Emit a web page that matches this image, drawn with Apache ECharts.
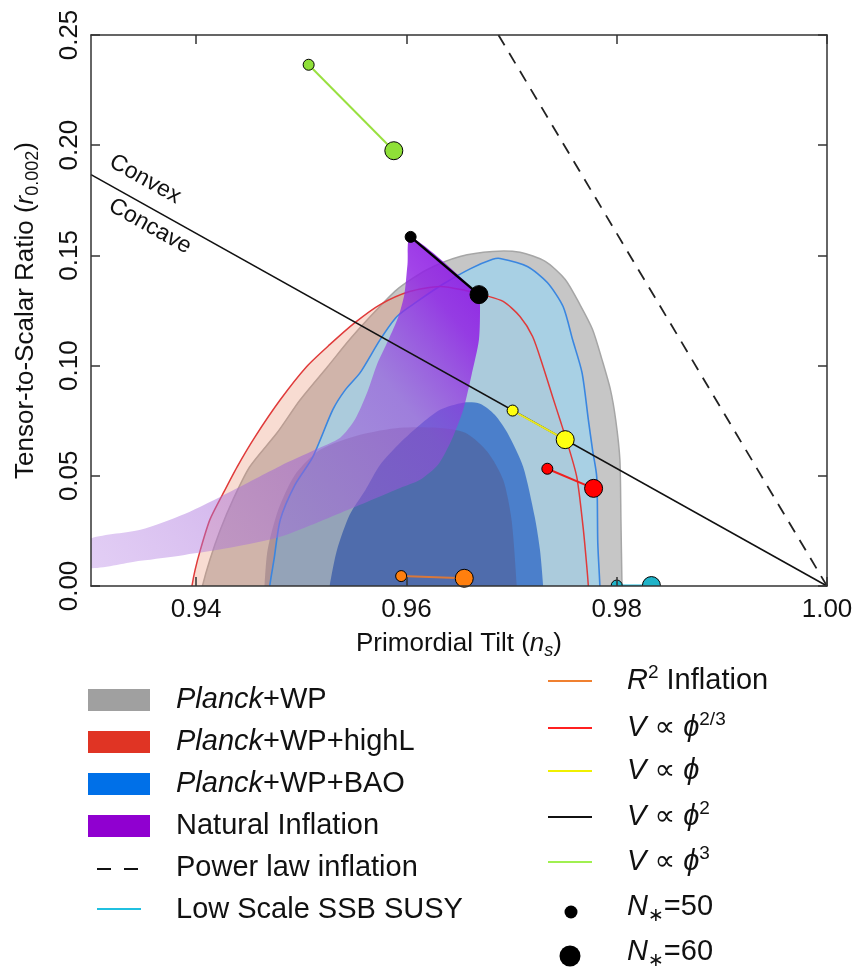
<!DOCTYPE html>
<html>
<head>
<meta charset="utf-8">
<script src="https://cdn.jsdelivr.net/npm/echarts@6/dist/echarts.min.js"></script>
<style>
  html, body { margin: 0; padding: 0; background: #fff; }
  #chart { width: 855px; height: 967px; }
</style>
</head>
<body>
<div id="chart"></div>
<script>
// Axis ticks
const xTicks = [0.94, 0.96, 0.98, 1.00];
const yTicks = [0.00, 0.05, 0.10, 0.15, 0.20, 0.25];

// Confidence region outlines, [n_s, r]
const planckWP95 = [[0.9405,-0.004],[0.9406,0],[0.9413,0.0118],[0.9423,0.0255],[0.9435,0.0391],[0.9451,0.0541],[0.9477,0.0695],[0.9499,0.0845],[0.9525,0.0995],[0.9546,0.1118],[0.9563,0.1209],[0.9591,0.1345],[0.9620,0.1436],[0.9651,0.1495],[0.9682,0.1518],[0.9708,0.1514],[0.9732,0.1473],[0.9751,0.1391],[0.9765,0.1277],[0.9777,0.1164],[0.9786,0.1027],[0.9794,0.0891],[0.9799,0.0755],[0.9803,0.0573],[0.9804,0.0300],[0.9805,0],[0.9805,-0.004]];
const planckWP68 = [[0.9465,-0.004],[0.9465,0],[0.9468,0.0164],[0.9478,0.0345],[0.9494,0.0505],[0.9518,0.0618],[0.9556,0.0686],[0.9594,0.0718],[0.9629,0.0718],[0.9656,0.0695],[0.9677,0.0609],[0.9692,0.0482],[0.9700,0.0300],[0.9705,0],[0.9705,-0.004]];
const highL95 = [[0.9395,-0.004],[0.9396,0],[0.9399,0.0073],[0.9404,0.0164],[0.9413,0.0300],[0.9425,0.0414],[0.9439,0.0541],[0.9456,0.0677],[0.9480,0.0845],[0.9505,0.0995],[0.9527,0.1095],[0.9551,0.1195],[0.9575,0.1277],[0.9603,0.1336],[0.9632,0.1359],[0.9656,0.1341],[0.9675,0.1318],[0.9692,0.1291],[0.9708,0.1223],[0.9720,0.1132],[0.9730,0.0995],[0.9739,0.0859],[0.9746,0.0755],[0.9753,0.0650],[0.9762,0.0495],[0.9768,0.0268],[0.9771,0.0118],[0.9773,0],[0.9773,-0.004]];
const bao95 = [[0.9470,-0.004],[0.9470,0],[0.9474,0.0118],[0.9480,0.0300],[0.9494,0.0459],[0.9511,0.0586],[0.9530,0.0800],[0.9542,0.0891],[0.9556,0.0968],[0.9575,0.1118],[0.9591,0.1223],[0.9610,0.1290],[0.9635,0.1370],[0.9661,0.1440],[0.9682,0.1482],[0.9689,0.1486],[0.9715,0.1450],[0.9734,0.1377],[0.9749,0.1268],[0.9758,0.1118],[0.9767,0.0968],[0.9773,0.0755],[0.9777,0.0618],[0.9781,0.0495],[0.9782,0.0195],[0.9784,0],[0.9784,-0.004]];
const bao68 = [[0.9527,-0.004],[0.9527,0],[0.9534,0.0164],[0.9546,0.0323],[0.9561,0.0436],[0.9575,0.0550],[0.9594,0.0650],[0.9613,0.0732],[0.9632,0.0800],[0.9654,0.0832],[0.9670,0.0827],[0.9684,0.0777],[0.9696,0.0695],[0.9711,0.0541],[0.9722,0.0314],[0.9727,0.0164],[0.9730,0],[0.9730,-0.004]];
// Natural inflation band between the N*=50 and N*=60 curves
const naturalBand = [[0.9604,0.1584],[0.9669,0.1322],[0.9670,0.1277],[0.9669,0.1118],[0.9662,0.0959],[0.9654,0.0800],[0.9643,0.0664],[0.9630,0.0550],[0.9613,0.0482],[0.9594,0.0445],[0.9544,0.0345],[0.9480,0.0223],[0.9432,0.0173],[0.9389,0.0141],[0.9347,0.0114],[0.9295,0.0084],[0.9295,0.0205],[0.9347,0.0255],[0.9389,0.0327],[0.9432,0.0427],[0.9480,0.0545],[0.9513,0.0618],[0.9537,0.0673],[0.9551,0.0755],[0.9563,0.0882],[0.9572,0.1005],[0.9583,0.1118],[0.9592,0.1218],[0.9598,0.1323],[0.9601,0.1459]];

// Model predictions at N*=50 and N*=60, [n_s, r]
const r2Inflation = [[0.9595, 0.0045], [0.9655, 0.0035]];
const phiTwoThirds = [[0.9734, 0.0532], [0.9778, 0.0443]];
const phiOne = [[0.9701, 0.0796], [0.9751, 0.0664]];
const phiTwo = [[0.9604, 0.1584], [0.9669, 0.1322]];
const phiThree = [[0.9507, 0.2365], [0.9588, 0.1975]];
const ssbSusy = [[0.9800, 0.0002], [0.9833, 0.0002]];

// Reference lines
const convexBoundary = [[0.93, 0.18667], [1.00, 0.0]];
const powerLaw = [[0.96875, 0.25], [1.00, 0.0]];
const convexLabelAt = [0.93514, 0.1845];
const concaveLabelAt = [0.93561, 0.1632];

const FONT = "'Liberation Sans', 'DejaVu Sans', sans-serif";
const INK = '#111';

function region(name, pts, style, z) {
  return {
    type: 'custom', name, coordinateSystem: 'cartesian2d', data: pts, z,
    clip: true, silent: true, animation: false,
    encode: { x: 0, y: 1 },
    renderItem(params, api) {
      if (params.dataIndex !== 0) return;
      const poly = pts.map(p => api.coord(p));
      return { type: 'polygon', shape: { points: poly, smooth: 0.25 }, style };
    }
  };
}

function model(name, pts, lineColor, dotColor, lineWidth, z) {
  return {
    type: 'line', name, data: pts, z, animation: false, silent: true,
    symbol: 'circle', showAllSymbol: true, clip: true,
    symbolSize: (v, p) => (p.dataIndex === 0 ? 11 : 18),
    lineStyle: { color: lineColor, width: lineWidth },
    itemStyle: { color: dotColor, borderColor: '#000', borderWidth: 1 }
  };
}

// Points sitting on r = 0 are cut by the plot frame, so they go through a clipped custom series
function clippedModel(name, pts, lineColor, dotColor, z) {
  return {
    type: 'custom', name, coordinateSystem: 'cartesian2d', data: pts, z,
    clip: true, silent: true, animation: false, encode: { x: 0, y: 1 },
    renderItem(params, api) {
      if (params.dataIndex !== 0) return;
      const p = pts.map(d => api.coord(d));
      return {
        type: 'group',
        children: [
          { type: 'line', shape: { x1: p[0][0], y1: p[0][1], x2: p[1][0], y2: p[1][1] }, style: { stroke: lineColor, lineWidth: 2 } },
          { type: 'circle', shape: { cx: p[0][0], cy: p[0][1], r: 5.5 }, style: { fill: dotColor, stroke: '#000', lineWidth: 1 } },
          { type: 'circle', shape: { cx: p[1][0], cy: p[1][1], r: 9 }, style: { fill: dotColor, stroke: '#000', lineWidth: 1 } }
        ]
      };
    }
  };
}

const purpleFill = new echarts.graphic.LinearGradient(1, 0, 0, 1, [
  { offset: 0.0, color: 'rgba(140,20,230,0.95)' },
  { offset: 0.14, color: 'rgba(145,35,228,0.85)' },
  { offset: 0.32, color: 'rgba(150,75,220,0.60)' },
  { offset: 0.6, color: 'rgba(160,100,215,0.50)' },
  { offset: 1.0, color: 'rgba(185,135,230,0.40)' }
]);

const axisLineStyle = { color: '#333', width: 1.5 };

const option = {
  animation: false,
  backgroundColor: '#fff',
  grid: { left: 91, right: 28, top: 35, bottom: 381, containLabel: false, outerBoundsMode: 'none' },
  xAxis: [
    {
      type: 'value', min: 0.93, max: 1.00, position: 'bottom', z: 10,
      axisLine: { show: true, onZero: false, lineStyle: axisLineStyle },
      axisTick: { show: true, inside: true, length: 9, customValues: xTicks, lineStyle: axisLineStyle },
      axisLabel: { customValues: xTicks, formatter: v => v.toFixed(2), fontSize: 26, fontFamily: FONT, color: INK, margin: 11, showMaxLabel: true, showMinLabel: true },
      splitLine: { show: false },
      name: 'Primordial Tilt ({i|n}{sub|s})', nameLocation: 'middle', nameGap: 38,
      nameTextStyle: {
        fontSize: 26, fontFamily: FONT, color: INK, lineHeight: 32,
        rich: {
          i: { fontSize: 26, fontFamily: FONT, fontStyle: 'italic', color: INK, lineHeight: 32 },
          sub: { fontSize: 18, fontFamily: FONT, fontStyle: 'italic', color: INK, verticalAlign: 'bottom', lineHeight: 24 }
        }
      }
    },
    {
      type: 'value', min: 0.93, max: 1.00, position: 'top', z: 10,
      axisLine: { show: true, onZero: false, lineStyle: axisLineStyle },
      axisTick: { show: true, inside: true, length: 9, customValues: xTicks, lineStyle: axisLineStyle },
      axisLabel: { show: false }, splitLine: { show: false }
    }
  ],
  yAxis: [
    {
      type: 'value', min: 0, max: 0.25, interval: 0.05, position: 'left', z: 10,
      axisLine: { show: true, onZero: false, lineStyle: axisLineStyle },
      axisTick: { show: true, inside: true, length: 9, lineStyle: axisLineStyle },
      axisLabel: { rotate: 90, formatter: v => v.toFixed(2), fontSize: 26, fontFamily: FONT, color: INK, margin: 8, showMaxLabel: true, showMinLabel: true },
      splitLine: { show: false },
      name: 'Tensor-to-Scalar Ratio ({i|r}{sub|0.002})', nameLocation: 'middle', nameRotate: 90, nameGap: 49,
      nameTextStyle: {
        fontSize: 26, fontFamily: FONT, color: INK, lineHeight: 32,
        rich: {
          i: { fontSize: 26, fontFamily: FONT, fontStyle: 'italic', color: INK, lineHeight: 32 },
          sub: { fontSize: 18, fontFamily: FONT, color: INK, verticalAlign: 'bottom', lineHeight: 24 }
        }
      }
    },
    {
      type: 'value', min: 0, max: 0.25, interval: 0.05, position: 'right', z: 10,
      axisLine: { show: true, onZero: false, lineStyle: axisLineStyle },
      axisTick: { show: true, inside: true, length: 9, lineStyle: axisLineStyle },
      axisLabel: { show: false }, splitLine: { show: false }
    }
  ],
  series: [
    region('Planck+WP 95%', planckWP95, { fill: '#c6c6c6', stroke: '#a6a6a6', lineWidth: 1.5 }, 1),
    region('Planck+WP+highL 95%', highL95, { fill: 'rgba(232,140,105,0.30)', stroke: 'none' }, 2),
    region('Planck+WP+BAO 95%', bao95, { fill: 'rgba(155,212,241,0.70)', stroke: 'none' }, 3),
    region('Planck+WP+BAO 68%', bao68, { fill: 'rgba(57,114,200,0.85)', stroke: 'none' }, 4),
    region('Planck+WP 68%', planckWP68, { fill: 'rgba(90,60,95,0.28)', stroke: 'none' }, 5),
    region('Planck+WP+BAO 95% edge', bao95, { fill: 'none', stroke: '#3a86e0', lineWidth: 1.6 }, 6),
    region('Planck+WP+highL 95% edge', highL95, { fill: 'none', stroke: '#e03a3a', lineWidth: 1.5 }, 6),
    region('Natural Inflation', naturalBand, { fill: purpleFill, stroke: 'none' }, 7),
    {
      type: 'line', name: 'Convex boundary', data: convexBoundary, z: 8, symbol: 'none', silent: true,
      lineStyle: { color: '#111', width: 1.6 }, animation: false
    },
    {
      type: 'line', name: 'Power law inflation', data: powerLaw, z: 8, symbol: 'none', silent: true,
      lineStyle: { color: '#222', width: 1.8, type: [12, 9] }, animation: false
    },
    model('R2 Inflation', r2Inflation, '#d9783a', '#ff7f0e', 2, 9),
    model('V phi^2/3', phiTwoThirds, '#ee2020', '#ff0000', 2, 9),
    model('V phi', phiOne, '#e8e820', '#ffff10', 2, 9),
    model('V phi^2', phiTwo, '#000', '#000', 2.5, 9),
    model('V phi^3', phiThree, '#99e040', '#8fe038', 2, 9),
    clippedModel('Low Scale SSB SUSY', ssbSusy, '#20c0e0', '#1fb3c8', 9)
  ]
};

const chart = echarts.init(document.getElementById('chart'), null, { renderer: 'canvas' });
chart.setOption(option);

// Annotations and legend
const a = chart.convertToPixel({ gridIndex: 0 }, convexBoundary[0]);
const b = chart.convertToPixel({ gridIndex: 0 }, convexBoundary[1]);
const ang = Math.atan2(b[1] - a[1], b[0] - a[0]);
const pc = chart.convertToPixel({ gridIndex: 0 }, convexLabelAt);
const pk = chart.convertToPixel({ gridIndex: 0 }, concaveLabelAt);

const LEG = 29;
const rich = {
  i: { fontSize: LEG, fontFamily: FONT, fontStyle: 'italic', fill: INK, lineHeight: 36 },
  n: { fontSize: LEG, fontFamily: FONT, fill: INK, lineHeight: 36 },
  sup: { fontSize: 19, fontFamily: FONT, fill: INK, verticalAlign: 'top', lineHeight: 22 },
  sub: { fontSize: 19, fontFamily: FONT, fill: INK, verticalAlign: 'bottom', lineHeight: 20 }
};
function legText(x, y, text) {
  return { type: 'text', x, y, z: 100, silent: true,
    style: { text, fontSize: LEG, fontFamily: FONT, fill: INK, align: 'left', verticalAlign: 'middle', rich } };
}
function swatch(y, color) {
  return { type: 'rect', z: 100, silent: true, shape: { x: 88, y: y - 11, width: 62, height: 22 }, style: { fill: color } };
}
function legLine(y, color) {
  return { type: 'line', z: 100, silent: true, shape: { x1: 548, y1: y, x2: 592, y2: y },
    style: { stroke: color, lineWidth: 2 } };
}

const graphic = [
  { type: 'text', x: pc[0], y: pc[1], rotation: -ang, z: 100, silent: true,
    style: { text: 'Convex', fontSize: 23, fontFamily: FONT, fill: INK, align: 'center', verticalAlign: 'middle' } },
  { type: 'text', x: pk[0], y: pk[1], rotation: -ang, z: 100, silent: true,
    style: { text: 'Concave', fontSize: 23, fontFamily: FONT, fill: INK, align: 'center', verticalAlign: 'middle' } },

  swatch(700, '#a0a0a0'), legText(176, 700, '{i|Planck}{n|+WP}'),
  swatch(742, '#e03424'), legText(176, 742, '{i|Planck}{n|+WP+highL}'),
  swatch(784, '#0070e8'), legText(176, 784, '{i|Planck}{n|+WP+BAO}'),
  swatch(826, '#9000d0'), legText(176, 826, 'Natural Inflation'),
  { type: 'line', z: 100, silent: true, shape: { x1: 97, y1: 869, x2: 138, y2: 869 },
    style: { stroke: '#111', lineWidth: 2, lineDash: [14, 13] } },
  legText(176, 868, 'Power law inflation'),
  { type: 'line', z: 100, silent: true, shape: { x1: 97, y1: 909, x2: 141, y2: 909 },
    style: { stroke: '#20c0e0', lineWidth: 2 } },
  legText(176, 910, 'Low Scale SSB SUSY'),

  legLine(681, '#f08030'), legText(627, 681, '{i|R}{sup|2}{n| Inflation}'),
  legLine(728, '#ff2020'), legText(627, 728, '{i|V}{n| ∝ }{i|ϕ}{sup|2/3}'),
  legLine(771, '#f0f000'), legText(627, 771, '{i|V}{n| ∝ }{i|ϕ}'),
  legLine(817, '#111'), legText(627, 817, '{i|V}{n| ∝ }{i|ϕ}{sup|2}'),
  legLine(862, '#a0f050'), legText(627, 862, '{i|V}{n| ∝ }{i|ϕ}{sup|3}'),
  { type: 'circle', z: 100, silent: true, shape: { cx: 571, cy: 912, r: 6.5 }, style: { fill: '#000' } },
  legText(627, 907, '{i|N}{sub|∗}{n|=50}'),
  { type: 'circle', z: 100, silent: true, shape: { cx: 570, cy: 956, r: 10.5 }, style: { fill: '#000' } },
  legText(627, 952, '{i|N}{sub|∗}{n|=60}')
];
chart.setOption({ graphic });
</script>
</body>
</html>
